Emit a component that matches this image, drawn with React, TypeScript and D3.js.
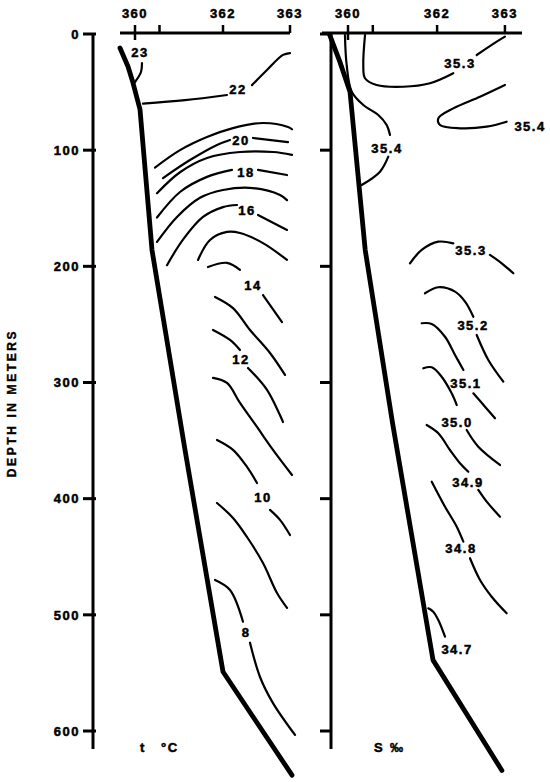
import React from "react";
import * as d3 from "d3";

type P = [number, number];

// depth axis (meters)
const depthTicks = [0, 100, 200, 300, 400, 500, 600];
// station numbers along the top, with along-section distance
const stations = ["360", "361", "362", "363"];
const stationDist = [0, 24.5, 88, 155];
const stationLabelShown = [true, false, true, true];

// sea-floor profiles (distance, depth)
const bottomT: P[] = [[-15, 12], [-7, 28], [-2, 42], [5, 65], [17, 186], [50, 358], [88, 549], [157, 638]];
const bottomS: P[] = [[-18, 1], [-8, 24], [2, 50], [17, 186], [44, 335], [84, 539], [152, 634]];

// temperature isotherms (segments split at labels)
const tempLines: P[][] = [
  [[0, 41.3], [6, 32.7], [7, 25]],
  [[8, 60], [50, 57], [92, 52.5]],
  [[117, 44], [132, 31], [148, 18], [155, 16.4]],
  [[20, 115], [45, 100], [72, 88.7], [98, 81], [128, 76.6], [153, 80], [157, 82]],
  [[28, 124], [55, 108.5], [82, 95.5], [95, 91.2]],
  [[118, 89.5], [153, 93]],
  [[22, 137], [45, 119], [72, 106.7], [105, 101.6], [138, 101.6], [157, 104]],
  [[22, 158], [45, 136], [72, 123], [97, 117]],
  [[123, 117], [152, 121.4]],
  [[22, 179], [42, 157.5], [65, 141], [88, 134.3], [118, 132.6], [145, 138.6], [152, 143]],
  [[32, 199], [48, 177], [68, 157.5], [88, 149], [102, 147.2]],
  [[123, 155.8], [152, 168.7]],
  [[63, 194.5], [75, 177.3], [92, 170.4], [105, 171.3], [128, 180], [152, 194.5]],
  [[73, 200.6], [92, 197], [105, 203]],
  [[128, 224.7], [147, 248]],
  [[80, 226.4], [98, 236], [115, 254.8], [135, 274.6], [150, 293.5]],
  [[78, 254.8], [95, 263.4], [105, 272]],
  [[113, 287.5], [132, 306.4], [148, 334]],
  [[78, 296], [92, 300.4], [105, 317.6], [122, 338.3], [138, 358], [157, 379.6]],
  [[82, 349.5], [98, 358], [112, 372.7], [122, 386.5]],
  [[135, 409.7], [145, 418.3], [155, 431.3]],
  [[82, 403.7], [98, 416.6], [112, 433], [128, 455.4], [142, 481.2], [152, 494]],
  [[80, 470], [95, 478.6], [108, 506]],
  [[115, 524], [125, 553.5], [138, 576], [160, 603.4]],
];
const tempLabelText = ["23", "22", "20", "18", "16", "14", "12", "10", "8"];
const tempLabelPos: P[] = [[5, 15.5], [103, 47.3], [106, 91.2], [111, 118.8], [112, 151.5], [118, 216], [106, 279.8], [128, 398.6], [111, 514.8]];

// salinity isohalines (segments split at labels)
const salLines: P[][] = [
  [[-3, 1], [-1.3, 26.7], [3.7, 49.7], [15.1, 61.1], [29.9, 69.7], [38.2, 78.3], [41.5, 86.9]],
  [[39.8, 105.6], [31.6, 118.5], [13.5, 130]],
  [[16.8, 1], [15.1, 26.7], [16.8, 38.1], [28.3, 43.9], [54.6, 45.4], [81, 42.4], [104, 33.8]],
  [[127.1, 18.1], [146.9, 6.6], [155, 2.3]],
  [[155, 43.9], [130.4, 54], [104, 64], [89.2, 72.6], [90.9, 78.3], [110.6, 81.2], [137, 79.8], [156.7, 75.5]],
  [[61.2, 197.4], [72.8, 185.9], [89.2, 178.8], [104, 180.2]],
  [[140.2, 190.2], [151.8, 197.4], [163.3, 206]],
  [[76, 223.2], [89.2, 218], [105.7, 221.8], [115.6, 230.4], [123.8, 243.4]],
  [[127.1, 259.1], [138.6, 280.6], [153.4, 299.3]],
  [[72.8, 249], [82.7, 249.6], [95.8, 260.6], [105.7, 276.3], [114, 289.2]],
  [[123.8, 309.3], [135.3, 320.8], [145.2, 330.8]],
  [[74.4, 287.8], [82.7, 286.9], [92.5, 295], [102.4, 309.3], [107.4, 319.4]],
  [[117.2, 340.9], [128.7, 355.3], [150.1, 371]],
  [[77.7, 336.6], [89.2, 343.7], [100.7, 358.1], [110.6, 369.5], [118.8, 376.8]],
  [[128.7, 392.5], [137, 402.6], [150.1, 415.5]],
  [[82.7, 385.4], [95.8, 406.9], [107.4, 424.1], [113.9, 437]],
  [[120.5, 451.3], [130.4, 470], [141.9, 484.4], [156.7, 498.7]],
  [[79.3, 494.4], [84.2, 497.3], [89.2, 504.5], [95.8, 518.8]],
];
const salLabelText = ["35.3", "35.4", "35.4", "35.3", "35.2", "35.1", "35.0", "34.9", "34.8", "34.7"];
const salLabelPos: P[] = [[110.6, 25.4], [38.5, 98.1], [179.8, 79.2], [121.5, 185.9], [123.5, 250.5], [116.5, 300.4], [107.7, 334], [118.5, 385.6], [111.6, 442.5], [107.7, 529.4]];

const FONT = "'Liberation Sans', Arial, sans-serif";

export default function App() {
  const y = d3.scaleLinear().domain([0, 600]).range([34, 731]);
  const xT = d3.scaleLinear().domain([0, 160]).range([135, 295]);
  const xS = d3.scaleLinear().domain([0, 160]).range([348, 510]);

  const lineFor = (x: d3.ScaleLinear<number, number>, smooth: boolean) =>
    d3
      .line<P>()
      .x((p) => x(p[0]))
      .y((p) => y(p[1]))
      .curve(smooth ? d3.curveCatmullRom.alpha(0.5) : d3.curveLinear);

  const lT = lineFor(xT, true);
  const lS = lineFor(xS, true);
  const bT = lineFor(xT, false);
  const bS = lineFor(xS, false);

  const axisTop = y(0) - 1;
  const axisBottom = 749;

  const labelStyle = {
    fontFamily: FONT,
    fontWeight: 700,
    fontSize: 13,
    letterSpacing: 1.5,
    stroke: "#000",
    strokeWidth: 0.5,
  } as React.CSSProperties;

  const topAxis = (x: d3.ScaleLinear<number, number>, x0: number, x1: number, key: string) => (
    <g key={key}>
      <line x1={x0} x2={x1} y1={axisTop} y2={axisTop} stroke="#000" strokeWidth={3} />
      {stationDist.map((d, i) => (
        <g key={i}>
          <line x1={x(d)} x2={x(d)} y1={axisTop - 8} y2={i === 0 ? axisTop + 7 : axisTop} stroke="#000" strokeWidth={2.5} />
          {stationLabelShown[i] && (
            <text x={x(d)} y={18} textAnchor="middle" style={labelStyle}>
              {stations[i]}
            </text>
          )}
        </g>
      ))}
    </g>
  );

  return (
    <svg
      width={550}
      height={782}
      style={{ position: "absolute", left: 0, top: 0, background: "#fff" }}
    >
      <rect width={550} height={782} fill="#fff" />

      {/* left depth axis */}
      <line x1={93} x2={93} y1={axisTop} y2={axisBottom} stroke="#000" strokeWidth={3} />
      {depthTicks.map((t) => (
        <g key={t}>
          <line x1={83} x2={96} y1={y(t)} y2={y(t)} stroke="#000" strokeWidth={3} />
          <text x={80} y={y(t)} dy="0.36em" textAnchor="end" style={labelStyle}>
            {t}
          </text>
        </g>
      ))}
      <text
        transform={`translate(16,403) rotate(-90)`}
        textAnchor="middle"
        style={{ fontFamily: FONT, fontWeight: 700, fontSize: 12, letterSpacing: 2.6, stroke: "#000", strokeWidth: 0.4 }}
      >
        DEPTH IN METERS
      </text>

      {/* middle axis */}
      <line x1={331} x2={331} y1={axisTop} y2={axisBottom} stroke="#000" strokeWidth={3} />
      {depthTicks.map((t) => (
        <line key={t} x1={320} x2={332} y1={y(t)} y2={y(t)} stroke="#000" strokeWidth={3} />
      ))}

      {topAxis(xT, 120, 290, "tTop")}
      {topAxis(xS, 322, 522, "sTop")}

      {/* temperature panel */}
      {tempLines.map((seg, i) => (
        <path key={i} d={lT(seg) || ""} fill="none" stroke="#000" strokeWidth={2.2} strokeLinecap="round" />
      ))}
      {tempLabelText.map((t, i) => (
        <text key={i} x={xT(tempLabelPos[i][0])} y={y(tempLabelPos[i][1])} dy="0.36em" textAnchor="middle" style={labelStyle}>
          {t}
        </text>
      ))}
      <path d={bT(bottomT) || ""} fill="none" stroke="#000" strokeWidth={4.8} strokeLinejoin="round" strokeLinecap="round" />
      <text x={140} y={752} style={labelStyle}>t</text>
      <text x={161} y={752} style={labelStyle}>°C</text>

      {/* salinity panel */}
      {salLines.map((seg, i) => (
        <path key={i} d={lS(seg) || ""} fill="none" stroke="#000" strokeWidth={2.2} strokeLinecap="round" />
      ))}
      {salLabelText.map((t, i) => (
        <text key={i} x={xS(salLabelPos[i][0])} y={y(salLabelPos[i][1])} dy="0.36em" textAnchor="middle" style={labelStyle}>
          {t}
        </text>
      ))}
      <path d={bS(bottomS) || ""} fill="none" stroke="#000" strokeWidth={4.8} strokeLinejoin="round" strokeLinecap="round" />
      <text x={374} y={752} style={labelStyle}>S</text>
      <text x={390} y={752} style={labelStyle}>‰</text>
    </svg>
  );
}
